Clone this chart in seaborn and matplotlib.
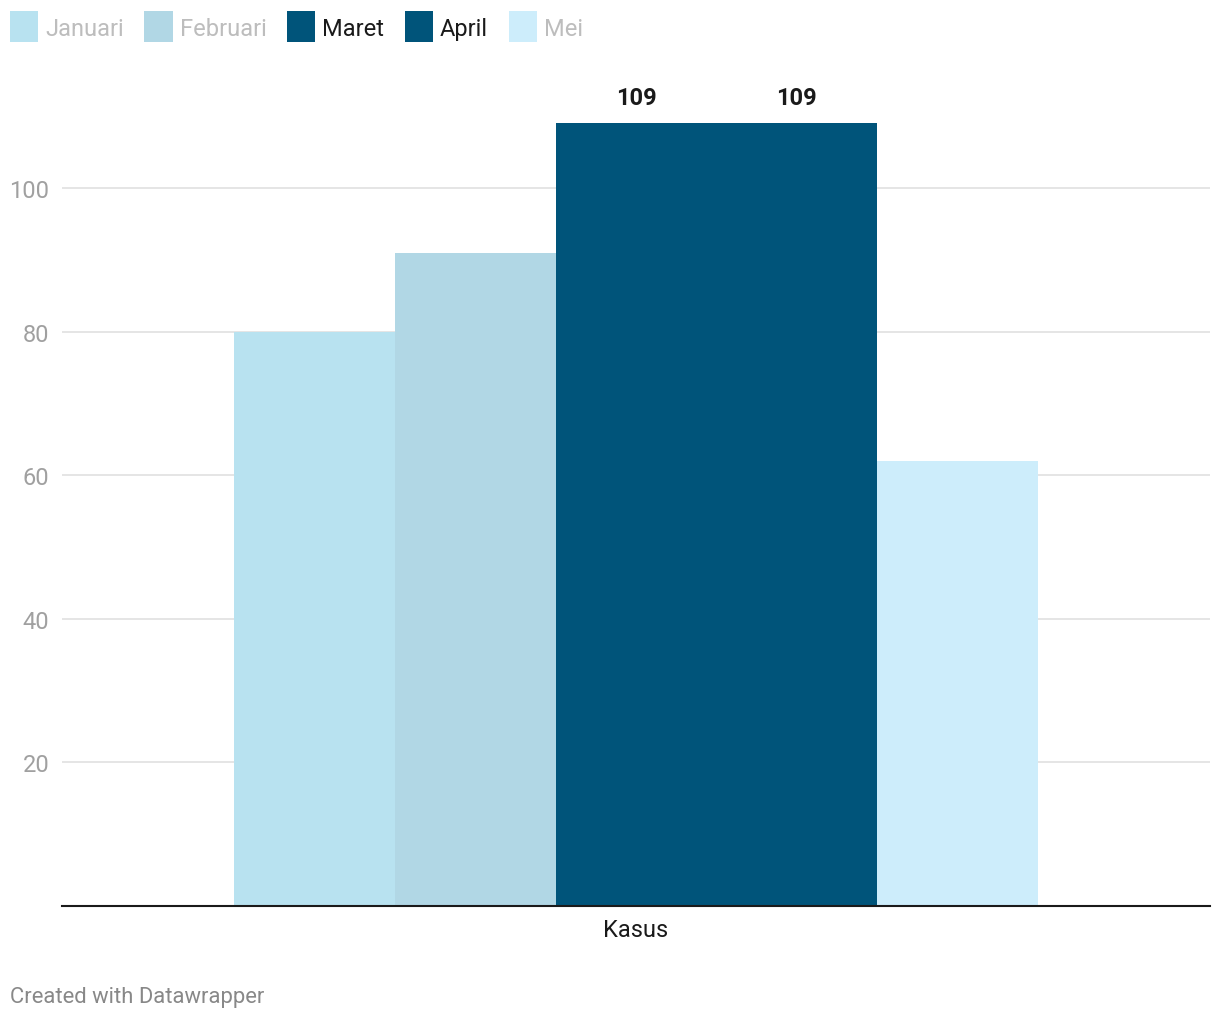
import matplotlib
matplotlib.use("Agg")
import matplotlib.pyplot as plt
import seaborn as sns
import pandas as pd
from matplotlib.patches import Patch

months = ["Januari", "Februari", "Maret", "April", "Mei"]
values = [80, 91, 109, 109, 62]
category = ["Kasus"] * 5
colors = ["#b8e2f0", "#b1d7e5", "#00547a", "#00547a", "#cdedfb"]
legend_text_colors = ["#bdbdbd", "#bdbdbd", "#1a1a1a", "#1a1a1a", "#bdbdbd"]
labeled = ["Maret", "April"]
yticks = [20, 40, 60, 80, 100]

df = pd.DataFrame({"cat": category, "month": months, "val": values})

sns.set_theme(style="white")
plt.rcParams["font.family"] = ["Roboto", "DejaVu Sans"]

fig = plt.figure(figsize=(12.2, 10.2), dpi=100)
ax = fig.add_axes([62/1220, 113/1020, (1210-62)/1220, (905-72)/1020])

sns.barplot(data=df, x="cat", y="val", hue="month", hue_order=months,
            palette=colors, width=0.7, dodge=True, saturation=1,
            legend=False, ax=ax, linewidth=0)

ax.set_xlim(-0.5, 0.5)
ax.set_ylim(0, 116)
ax.set_yticks(yticks)
ax.set_yticklabels([str(t) for t in yticks])
ax.yaxis.grid(True, color="#e0e0e0", linewidth=1.2)
ax.set_axisbelow(True)
for s in ["left", "right", "top"]:
    ax.spines[s].set_visible(False)
ax.spines["bottom"].set_color("#1a1a1a")
ax.spines["bottom"].set_linewidth(1.5)
ax.tick_params(axis="y", length=0, pad=9, labelsize=17, labelcolor="#a0a0a0")
ax.tick_params(axis="x", length=0, pad=9, labelsize=17, labelcolor="#1a1a1a")
ax.set_xlabel("")
ax.set_ylabel("")

for cont, m in zip(ax.containers, months):
    if m in labeled:
        ax.bar_label(cont, fmt="%d", padding=10, fontsize=17,
                     fontweight="bold", color="#1a1a1a")

handles = [Patch(facecolor=c, edgecolor="none") for c in colors]
leg = fig.legend(handles, months, loc="upper left", bbox_to_anchor=(10/1220, 1 - 15/1020),
                 ncol=5, frameon=False, fontsize=17, handlelength=1.19,
                 handleheight=1.3, handletextpad=0.3, columnspacing=0.87,
                 borderpad=0, borderaxespad=0)
for t, c in zip(leg.get_texts(), legend_text_colors):
    t.set_color(c)
for h in leg.legend_handles:
    h.set_height(h.get_height() * 1.2)
    h.set_y(h.get_y() - h.get_height() * 0.08)

fig.text(10/1220, 1 - 998/1020, "Created with Datawrapper", fontsize=15.8,
         color="#888888", va="center", ha="left")

fig.savefig("out.png", dpi=100)
